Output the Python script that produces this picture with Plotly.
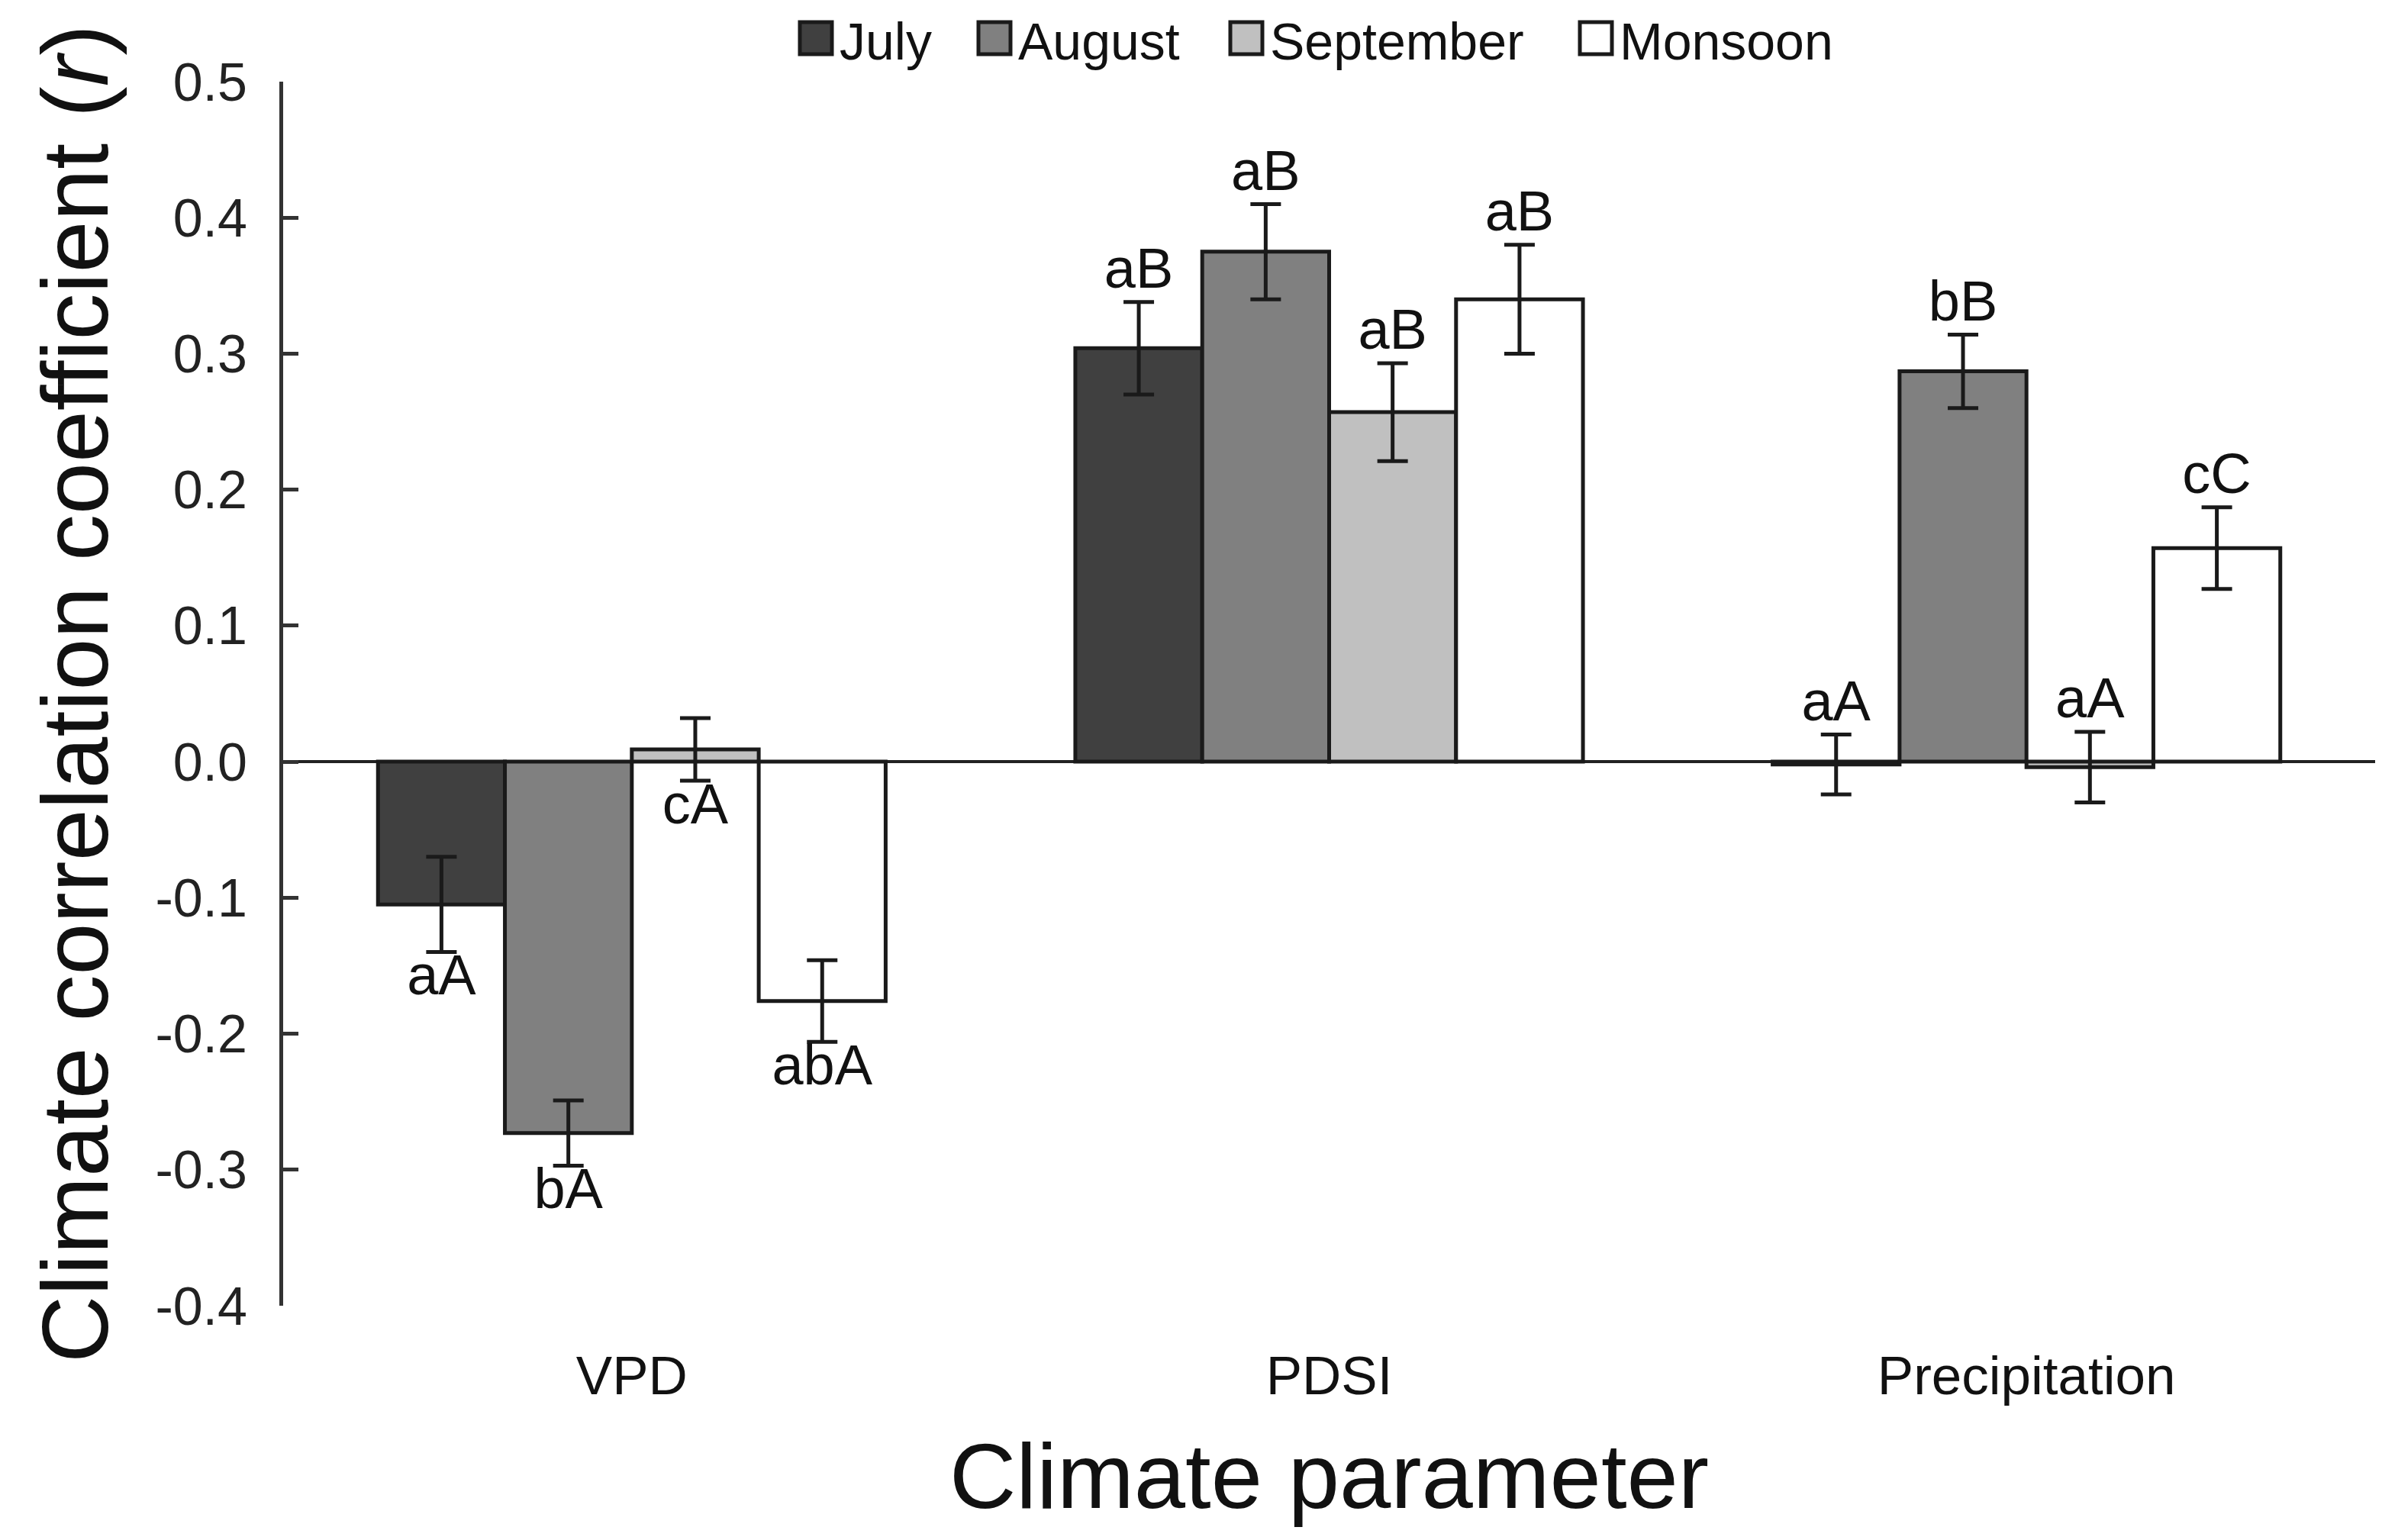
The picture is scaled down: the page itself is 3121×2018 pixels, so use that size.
import plotly.graph_objects as go

# data
categories = ["VPD", "PDSI", "Precipitation"]
months = ["July", "August", "September", "Monsoon"]

july = [-0.105, 0.304, -0.002]
july_err = [0.035, 0.034, 0.022]
august = [-0.273, 0.375, 0.287]
august_err = [0.024, 0.035, 0.027]
september = [0.009, 0.257, -0.004]
september_err = [0.023, 0.036, 0.026]
monsoon = [-0.176, 0.340, 0.157]
monsoon_err = [0.030, 0.040, 0.030]

july_lbl = ["aA", "aB", "aA"]
august_lbl = ["bA", "aB", "bB"]
september_lbl = ["cA", "aB", "aA"]
monsoon_lbl = ["abA", "aB", "cC"]

ytick_vals = [-0.4, -0.3, -0.2, -0.1, 0.0, 0.1, 0.2, 0.3, 0.4, 0.5]
ytick_text = ["-0.4", "-0.3", "-0.2", "-0.1", "0.0", "0.1", "0.2", "0.3", "0.4", "0.5"]

# letters go under the VPD bars, above the others
label_below = [True, False, False]

values = [july, august, september, monsoon]
errors = [july_err, august_err, september_err, monsoon_err]
labels = [july_lbl, august_lbl, september_lbl, monsoon_lbl]
colors = ["#404040", "#808080", "#c0c0c0", "#ffffff"]

FONT = "Liberation Sans, Arial, sans-serif"
# page body adds an 8px offset, so the figure is drawn a bit smaller
W, H = 3113, 2010
L, R, T, B = 363, 9, 99, 307
PW, PH = W - L - R, H - T - B

fig = go.Figure()

for name, v, e, c in zip(months, values, errors, colors):
    fig.add_trace(go.Bar(
        x=categories, y=v, name=name, offsetgroup=name,
        marker=dict(color=c, line=dict(color="#1a1a1a", width=5)),
        error_y=dict(type="data", array=e, visible=True,
                     color="#1a1a1a", thickness=5, width=20),
        showlegend=False,
    ))

for name, v, e, lb in zip(months, values, errors, labels):
    ys = [vi - ei if below else vi + ei for vi, ei, below in zip(v, e, label_below)]
    pos = ["bottom center" if below else "top center" for below in label_below]
    fig.add_trace(go.Scatter(
        x=categories, y=ys, text=lb, mode="text", offsetgroup=name,
        textposition=pos,
        textfont=dict(family=FONT, size=74, color="#111111"),
        showlegend=False, hoverinfo="skip",
    ))

# hand-built legend so the swatches are as large as in the original
legend_left = [1040, 1274, 1604, 2062]
sq = 42
legend_cy = 42


def px_x(px):
    return (px - L) / PW


def px_y(py):
    return (H - B - py) / PH


for name, c, x0 in zip(months, colors, legend_left):
    fig.add_shape(type="rect", xref="paper", yref="paper",
                  x0=px_x(x0), x1=px_x(x0 + sq),
                  y0=px_y(legend_cy + sq / 2), y1=px_y(legend_cy - sq / 2),
                  fillcolor=c, line=dict(color="#1a1a1a", width=5))
    fig.add_annotation(xref="paper", yref="paper",
                       x=px_x(x0 + sq + 8), y=px_y(legend_cy + 4),
                       xanchor="left", yanchor="middle", showarrow=False,
                       text=name, font=dict(family=FONT, size=68, color="#111111"))

fig.update_layout(
    width=W, height=H,
    margin=dict(l=L, r=R, t=T, b=B),
    paper_bgcolor="white", plot_bgcolor="white",
    barmode="group", bargap=0.272, bargroupgap=0,
    scattermode="group", scattergap=0.272,
    font=dict(family=FONT, color="#111111"),
)

fig.update_xaxes(
    showline=False, showgrid=False, zeroline=False, ticks="",
    tickfont=dict(family=FONT, size=71, color="#111111"),
    ticklabelstandoff=44,
    title=dict(text="Climate parameter", font=dict(family=FONT, size=121, color="#111111"),
               standoff=50),
    automargin=False,
)

fig.update_yaxes(
    range=[-0.4, 0.5], tickvals=ytick_vals, ticktext=ytick_text,
    showline=True, linecolor="#333333", linewidth=5,
    ticks="inside", ticklen=20, tickwidth=5, tickcolor="#333333",
    showgrid=False, zeroline=True, zerolinecolor="#222222", zerolinewidth=4,
    tickfont=dict(family=FONT, size=70, color="#222222"),
    ticklabelstandoff=28,
    title=dict(text="Climate correlation coefficient (<i>r</i>)",
               font=dict(family=FONT, size=122, color="#111111"), standoff=22),
    automargin=False,
)

fig.write_html("out.html")
